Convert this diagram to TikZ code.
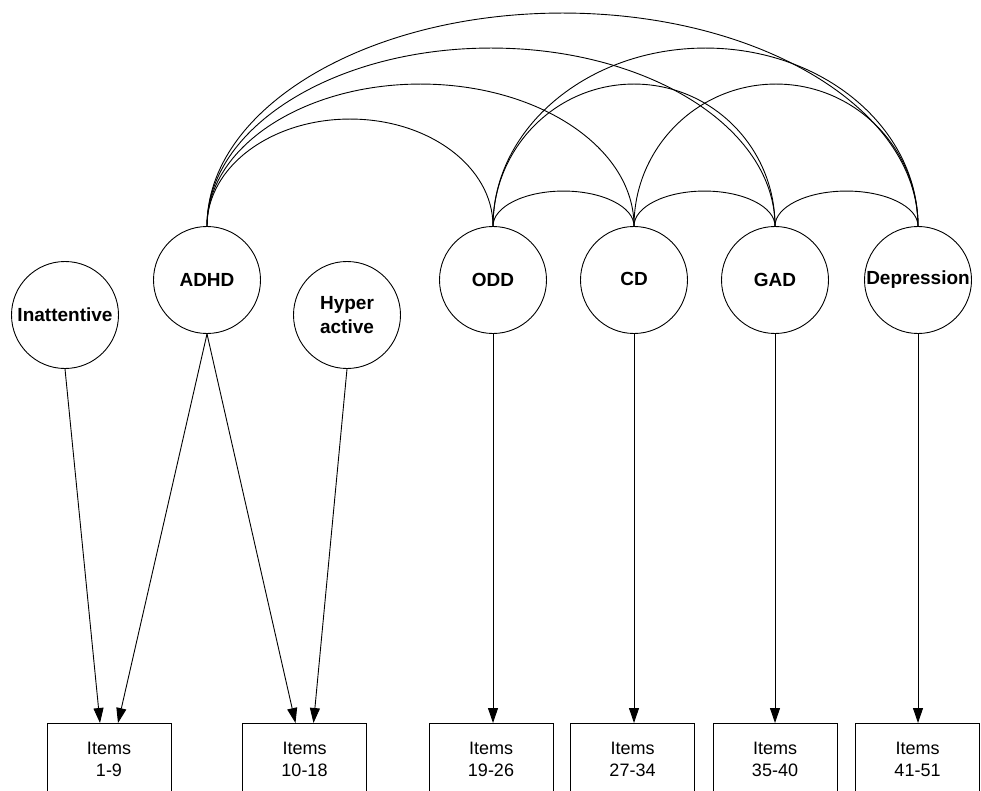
\documentclass[tikz,border=0pt]{standalone}
\usepackage{fontspec}
\setmainfont{Liberation Sans}
\usetikzlibrary{arrows.meta}
\begin{document}
\begin{tikzpicture}[x=1pt,y=1pt, line width=0.9pt,
  factor/.style={draw, circle, minimum size=107pt, inner sep=0pt,
    font=\fontsize{19}{24}\selectfont\bfseries, align=center},
  itembox/.style={draw, rectangle, minimum width=124pt, minimum height=72pt,
    anchor=north, font=\fontsize{18}{22}\selectfont, align=center},
  load/.style={-{Triangle[length=15pt,width=10pt]}},
  cov/.style={line width=0.9pt}]
\useasboundingbox (0,0) rectangle (981,-791);
\clip (0,0) rectangle (981,-791);

% latent factors
\node[factor] (inat)  at (65,-315)  {Inattentive};
\node[factor] (adhd)  at (207,-280) {ADHD};
\node[factor] (hyper) at (347,-315) {Hyper\\active};
\node[factor] (odd)   at (493,-280) {ODD};
\node[factor] (cd)    at (634,-280) {\raisebox{3pt}{CD}};
\node[factor] (gad)   at (775,-280) {\raisebox{-4pt}{GAD}};
\node[factor] (dep)   at (918,-280) {\raisebox{-2pt}{Depression}};

% item boxes
\node[itembox] (b1) at (109,-723)   {Items\\1-9};
\node[itembox] (b2) at (304.5,-723) {Items\\10-18};
\node[itembox] (b3) at (491,-723)   {Items\\19-26};
\node[itembox] (b4) at (632.5,-723) {Items\\27-34};
\node[itembox] (b5) at (775,-723)   {Items\\35-40};
\node[itembox] (b6) at (917.5,-723) {Items\\41-51};

% loadings
\draw[load] (inat.south)  -- ([xshift=-9pt]b1.north);
\draw[load] (adhd.south)  -- ([xshift=9pt]b1.north);
\draw[load] (adhd.south)  -- ([xshift=-9pt]b2.north);
\draw[load] (hyper.south) -- ([xshift=9pt]b2.north);
\draw[load] (odd.south) -- (odd.south |- b3.north);
\draw[load] (cd.south)  -- (cd.south |- b4.north);
\draw[load] (gad.south) -- (gad.south |- b5.north);
\draw[load] (dep.south) -- (dep.south |- b6.north);

% correlations
\draw[cov] (adhd.north) arc[start angle=180, end angle=0, x radius=143pt,   y radius=107pt];
\draw[cov] (adhd.north) arc[start angle=180, end angle=0, x radius=213.5pt, y radius=142pt];
\draw[cov] (adhd.north) arc[start angle=180, end angle=0, x radius=284pt,   y radius=178pt];
\draw[cov] (adhd.north) arc[start angle=180, end angle=0, x radius=355.5pt, y radius=213pt];
\draw[cov] (odd.north)  arc[start angle=180, end angle=0, x radius=70.5pt,  y radius=35pt];
\draw[cov] (odd.north)  arc[start angle=180, end angle=0, x radius=141pt,   y radius=142pt];
\draw[cov] (odd.north)  arc[start angle=180, end angle=0, x radius=212.5pt, y radius=178pt];
\draw[cov] (cd.north)   arc[start angle=180, end angle=0, x radius=70.5pt,  y radius=35pt];
\draw[cov] (cd.north)   arc[start angle=180, end angle=0, x radius=142pt,   y radius=142pt];
\draw[cov] (gad.north)  arc[start angle=180, end angle=0, x radius=71.5pt,  y radius=35pt];
\end{tikzpicture}
\end{document}
